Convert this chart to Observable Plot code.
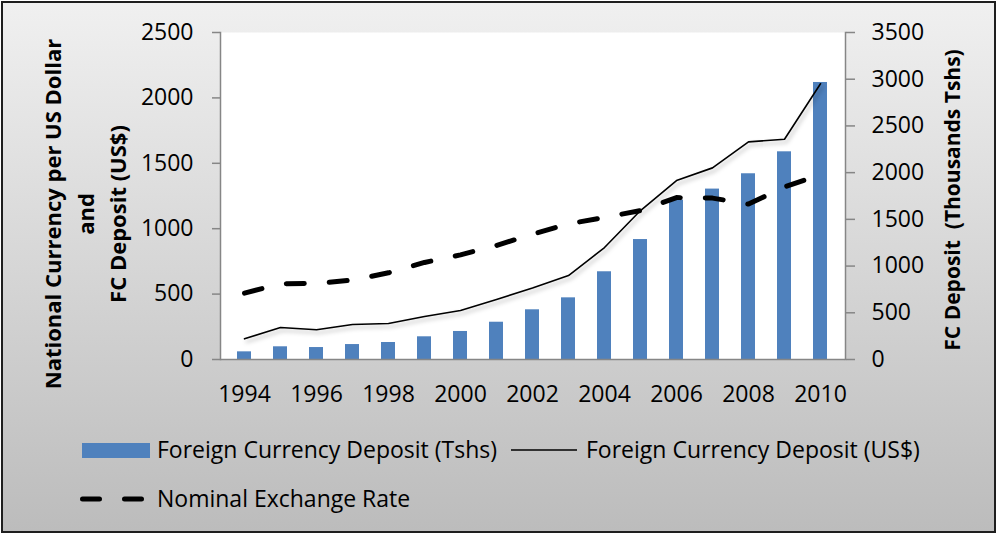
<!DOCTYPE html>
<html><head><meta charset="utf-8">
<script src="https://cdn.jsdelivr.net/npm/d3@7"></script>
<script src="https://cdn.jsdelivr.net/npm/@observablehq/plot@0.6"></script>
<style>
body{margin:0;background:#fff;}
#chart{position:relative;width:999px;height:536px;overflow:hidden;font-family:"Open Sans",sans-serif;color:#000;}
#bg{position:absolute;left:1px;top:1px;width:995px;height:532px;box-sizing:border-box;border:2px solid #1e1e1e;background:linear-gradient(to bottom,#f0f0f0,#bcbcbc);}
#plot{position:absolute;left:0;top:0;}
.ytitle{position:absolute;font-weight:bold;text-align:center;white-space:pre;transform:translate(-50%,-50%) rotate(-90deg);line-height:32.5px;}
.lg{position:absolute;font-size:23px;line-height:28px;white-space:nowrap;}
.sw{position:absolute;}
</style>
</head><body>
<div id="chart">
  <div id="bg"></div>
  <div id="plot"></div>
  <div class="ytitle" style="left:85px;top:214px;font-size:22px;">National Currency per US Dollar
and
FC Deposit (US$)</div>
  <div class="ytitle" style="left:952px;top:200px;font-size:21px;">FC Deposit  (Thousands Tshs)</div>
  <div class="sw" style="left:82px;top:443px;width:68px;height:15px;background:#4f81bd;"></div>
  <div class="lg" style="left:157px;top:435px;">Foreign Currency Deposit (Tshs)</div>
  <svg class="sw" style="left:511px;top:440px;" width="66" height="20"><line x1="0" y1="10" x2="66" y2="10" stroke="#000" stroke-width="1.5"/></svg>
  <div class="lg" style="left:586px;top:435px;">Foreign Currency Deposit (US$)</div>
  <svg class="sw" style="left:75px;top:489px;" width="75" height="20"><line x1="7.5" y1="10" x2="67.5" y2="10" stroke="#000" stroke-width="5" stroke-dasharray="17,25" stroke-linecap="round"/></svg>
  <div class="lg" style="left:157px;top:484px;">Nominal Exchange Rate</div>
</div>
<script>
const years = [1994,1995,1996,1997,1998,1999,2000,2001,2002,2003,2004,2005,2006,2007,2008,2009,2010];
const tshsDeposit = [82,136,128,160,182,243,300,399,532,660,939,1284,1706,1824,1988,2223,2965];
const usdDeposit = [158,245,227,268,275,329,375,459,546,642,856,1139,1368,1465,1664,1684,2108];
const exchangeRate = [507,579,581,607,663,742,800,872,958,1037,1086,1139,1238,1234,1188,1320,1412];
const xTicks = [1994,1996,1998,2000,2002,2004,2006,2008,2010];
const leftTicks = [0,500,1000,1500,2000,2500];
const rightTicks = [0,500,1000,1500,2000,2500,3000,3500];

const leftMax = 2500, rightMax = 3500;
const ratio = leftMax / rightMax;
const data = years.map((year, i) => ({year, tshs: tshsDeposit[i], usd: usdDeposit[i], rate: exchangeRate[i]}));

const plot = Plot.plot({
  width: 999, height: 420,
  marginLeft: 220, marginRight: 154, marginTop: 32, marginBottom: 61,
  style: {background: "transparent", fontFamily: "Open Sans", fontSize: "23px", color: "#000", overflow: "visible"},
  x: {type: "band", domain: years, paddingInner: 0.6, paddingOuter: 0.3},
  y: {domain: [0, leftMax]},
  marks: [
    Plot.frame({fill: "white", stroke: null}),
    Plot.barY(data, {x: "year", y: d => d.tshs * ratio, fill: "#4f81bd"}),
    Plot.ruleY([0], {stroke: "#868686", strokeWidth: 1.5}),
    Plot.frame({anchor: "left", stroke: "#868686", strokeWidth: 1.5}),
    Plot.frame({anchor: "right", stroke: "#868686", strokeWidth: 1.5}),
    Plot.line(data, {x: "year", y: "usd", stroke: "#000", strokeWidth: 1.6}),
    Plot.line(data, {x: "year", y: "rate", stroke: "#000", strokeWidth: 5, strokeDasharray: "18,25", strokeLinecap: "round"}),
    Plot.axisX({ticks: xTicks, tickFormat: d => String(d), tickSize: 0, tickPadding: 26, label: null, fill: "#000"}),
    Plot.axisY({ticks: leftTicks, tickFormat: d => String(d), anchor: "left", tickSize: 8, tickPadding: 19, label: null, stroke: "#868686", strokeWidth: 1.5, fill: "#000"}),
    Plot.axisY({ticks: rightTicks.map(v => v * ratio), tickFormat: d => String(Math.round(d / ratio)), anchor: "right", tickSize: 9, tickPadding: 17, label: null, stroke: "#868686", strokeWidth: 1.5, fill: "#000"})
  ]
});
document.getElementById("plot").appendChild(plot);
const lines = plot.querySelectorAll('g[aria-label="line"]');
if (lines.length) lines[0].style.filter = "drop-shadow(2px 3px 2px rgba(0,0,0,0.3))";
</script>
</body></html>
